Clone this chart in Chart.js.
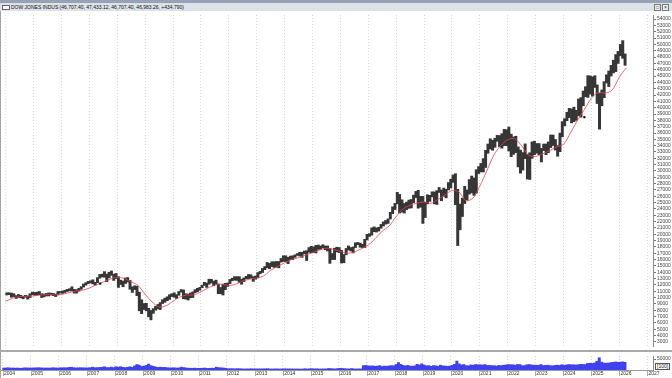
<!DOCTYPE html>
<html>
<head>
<meta charset="utf-8">
<script src="https://cdn.jsdelivr.net/npm/chart.js@4.4.1/dist/chart.umd.min.js"></script>
<style>
  html, body { margin: 0; padding: 0; background: #fff; }
  body { width: 672px; height: 378px; position: relative; overflow: hidden;
         font-family: "Liberation Sans", Arial, sans-serif; }
  #topbar { position: absolute; left: 0; top: 0; width: 672px; height: 3px; background: #97a3b4; }
  #legendbar { position: absolute; left: 0; top: 3px; width: 672px; height: 8px; background: #dde2e9; }
  #legend { position: absolute; left: 2px; top: 4px; font-size: 5px; line-height: 6px; color: #111; white-space: nowrap; }
  #legend i { display: inline-block; width: 6px; height: 3px; border: 1px solid #666; background: #fff; margin-right: 1px; vertical-align: -1px; }
  .btn { position: absolute; top: 4px; width: 5px; height: 5px; border: 1px solid #777; background: #eef0f3; font-size: 5px; line-height: 5px; text-align: center; color: #222; }
  #leftedge { position: absolute; left: 0; top: 11px; width: 1px; height: 367px; background: #a4a4a4; }
  #price { position: absolute; left: 0; top: 11px; }
  #sep { position: absolute; left: 0; top: 350px; width: 672px; height: 2px; background: #a9a9a9; }
  #volume { position: absolute; left: 0; top: 352px; }
  #volscale { position: absolute; left: 655px; top: 363px; font-size: 5px; line-height: 5px; border: 1px solid #555; padding: 0 1px; color: #222; background: #fff; }
</style>
</head>
<body>
<div id="topbar"></div>
<div id="legendbar"></div>
<div id="legend"><i></i><span id="legendText"></span></div>
<div class="btn" style="left:654px">&#9633;</div>
<div class="btn" style="left:662px">&#215;</div>
<canvas id="price" width="672" height="339"></canvas>
<div id="sep"></div>
<canvas id="volume" width="672" height="26"></canvas>
<div id="volscale">[100]</div>
<div id="leftedge"></div>
<script>
const LEGEND_TEXT = 'DOW JONES INDUS (46,707.40, 47,433.12, 46,707.40, 46,983.26, +434.790)';

// monthly bars, Jan 2004 .. Mar 2026
const START_YEAR = 2004;
const HIGH = [
  10750, 10750, 10700, 10600, 10300, 10480, 10350, 10200, 10350, 10250, 10600, 10860,
  10800, 10850, 10950, 10600, 10550, 10650, 10720, 10700, 10650, 10550, 10950, 10950,
  11050, 11150, 11300, 11400, 11700, 11300, 11250, 11450, 11720, 12150, 12350, 12550,
  12650, 12800, 12400, 13150, 13650, 13700, 14100, 13700, 14000, 14200, 13700, 13800,
  13300, 12750, 12600, 13100, 13150, 12700, 11700, 11850, 11800, 10850, 9650, 9050,
  9100, 8300, 7950, 8250, 8600, 8900, 9200, 9650, 9900, 10120, 10450, 10600,
  10750, 10450, 10950, 11260, 11200, 10600, 10550, 10720, 10900, 11250, 11450, 11600,
  11950, 12400, 12300, 12900, 12880, 12600, 12750, 12150, 11600, 12100, 12250, 12300,
  12850, 13050, 13300, 13300, 13300, 12900, 13100, 13350, 13650, 13600, 13300, 13400,
  13950, 14150, 14600, 14900, 15550, 15400, 15650, 15650, 15700, 15700, 16170, 16600,
  16600, 16350, 16550, 16600, 16750, 16950, 17150, 17150, 17350, 17400, 17900, 18100,
  18000, 18250, 18300, 18150, 18350, 18150, 18150, 17750, 16950, 17800, 17950, 17900,
  17450, 16800, 17750, 18150, 17900, 18000, 18650, 18700, 18600, 18400, 19200, 19990,
  20100, 21000, 21170, 21000, 21100, 21550, 21950, 22180, 22420, 23480, 24330, 24880,
  26620, 26300, 25450, 24860, 25080, 25400, 25500, 26170, 26770, 26950, 25990, 25980,
  25050, 26240, 26150, 26700, 26700, 26900, 27400, 27000, 27300, 27100, 28170, 28700,
  29370, 29570, 27100, 24760, 25700, 27580, 27000, 28650, 29200, 28900, 30200, 30700,
  31190, 31960, 33260, 34260, 35090, 34850, 35170, 35630, 35600, 35900, 36570, 36520,
  36950, 35820, 35370, 35490, 33800, 33300, 32900, 34280, 32600, 32880, 34600, 34710,
  34340, 34340, 33570, 34260, 34260, 34590, 35680, 35680, 34980, 34000, 35980, 37800,
  38270, 39280, 39890, 39810, 40080, 39590, 41380, 41590, 42630, 43320, 45070, 45010,
  44880, 45050, 43600, 42250, 42800, 44120, 45200, 45800, 46700, 47500, 48400, 48900,
  50000, 50600, 48500
];
const LOW = [
  10400, 10450, 10050, 10150, 9850, 10000, 9950, 9800, 10050, 9750, 10000, 10450,
  10350, 10400, 10450, 10000, 10100, 10250, 10250, 10400, 10300, 10150, 10400, 10700,
  10650, 10800, 10950, 11050, 11050, 10700, 10700, 11000, 11300, 11650, 11950, 12200,
  12300, 12150, 11950, 12350, 13050, 13250, 13200, 12500, 13100, 13500, 12700, 13000,
  11600, 12050, 11700, 12200, 12450, 11300, 10800, 11250, 10300, 7900, 7450, 8100,
  7900, 6950, 6470, 7500, 8000, 8200, 8100, 9050, 9250, 9500, 9700, 10150,
  10050, 9850, 10350, 10850, 9800, 9750, 9600, 9950, 10000, 10750, 10900, 11150,
  11550, 11900, 11600, 12100, 12300, 11850, 12100, 10600, 10600, 10400, 11250, 11750,
  12200, 12650, 12750, 12700, 12400, 12100, 12500, 12950, 13000, 13050, 12550, 12900,
  13100, 13750, 13950, 14400, 14700, 14550, 14900, 14750, 14800, 14700, 15600, 15700,
  15650, 15350, 16000, 16000, 16350, 16650, 16550, 16350, 16900, 15850, 17150, 17050,
  17100, 17050, 17600, 17650, 17850, 17550, 17350, 15400, 16000, 16000, 17200, 17100,
  15450, 15500, 16750, 17500, 17350, 17050, 17900, 18350, 17950, 17900, 17900, 19100,
  19650, 19850, 20400, 20350, 20500, 20950, 21300, 21600, 21700, 22400, 23250, 23900,
  24800, 23350, 23500, 23350, 23900, 24100, 24150, 25000, 25800, 24120, 24270, 21710,
  22640, 24800, 25200, 25900, 24800, 24700, 26600, 25300, 26000, 25750, 27000, 27300,
  28200, 24680, 18210, 20700, 22800, 24850, 25400, 26350, 26540, 26140, 26500, 29600,
  29850, 29850, 30550, 32800, 33470, 33270, 33740, 34680, 33850, 33600, 34000, 34000,
  33150, 32270, 32630, 32900, 30640, 29650, 30140, 31950, 28720, 28660, 32000, 32570,
  32810, 32580, 31430, 33230, 32580, 32900, 33700, 34020, 33300, 32330, 33050, 35400,
  37120, 37950, 38430, 37610, 37810, 38000, 38720, 38500, 40300, 41740, 41620, 42150,
  41840, 43200, 40660, 36610, 40300, 41580, 43900, 43340, 45000, 45500, 45700, 47000,
  48200, 47800, 46700
];
const VOLUME = [
  9000, 9500, 10000, 9000, 9000, 8500, 9000, 8000, 8500, 10000, 9500, 9000,
  9500, 9500, 10000, 10500, 9500, 9000, 9000, 9000, 9000, 10500, 9500, 9000,
  10000, 10000, 10500, 10000, 12000, 12500, 10500, 9500, 10000, 10500, 10000, 9500,
  10000, 10500, 13000, 10500, 11000, 11500, 12500, 15000, 11500, 11000, 13500, 11000,
  15000, 13000, 15000, 12000, 11000, 12500, 15000, 12000, 19000, 25000, 22000, 16000,
  18000, 21000, 27000, 20000, 17000, 14000, 12000, 13000, 12000, 12000, 10500, 9500,
  10000, 10000, 9000, 9500, 13000, 11000, 9500, 8500, 8000, 8000, 8500, 7500,
  8000, 8000, 9000, 7500, 7500, 8500, 8000, 13000, 11000, 10000, 9000, 8000,
  6000, 6000, 6000, 5500, 6000, 6000, 5000, 4500, 5000, 5000, 5500, 5000,
  5000, 5000, 5000, 5500, 5500, 6000, 4500, 4500, 5000, 5000, 4500, 4500,
  5500, 5000, 5000, 5000, 4500, 4500, 4500, 4000, 4500, 6000, 4500, 5500,
  6000, 5000, 5500, 4500, 4500, 5000, 4500, 7000, 6500, 5500, 5000, 6500,
  7500, 7000, 6000, 5000, 5000, 6500, 5000, 4500, 5000, 5000, 20000, 21000,
  19000, 18000, 19000, 17000, 18000, 20000, 16000, 18000, 17000, 19000, 20000, 19000,
  25000, 34000, 26000, 21000, 19000, 21000, 18000, 17000, 19000, 26000, 23000, 28000,
  23000, 19000, 20000, 17000, 20000, 19000, 17000, 22000, 19000, 18000, 17000, 18000,
  21000, 26000, 41000, 28000, 23000, 25000, 20000, 19000, 23000, 22000, 25000, 24000,
  24000, 23000, 25000, 21000, 21000, 20000, 20000, 18000, 21000, 20000, 22000, 23000,
  25000, 24000, 24000, 22000, 25000, 25000, 20000, 20000, 24000, 25000, 23000, 22000,
  22000, 21000, 25000, 20000, 21000, 22000, 20000, 19000, 21000, 22000, 21000, 24000,
  22000, 23000, 25000, 24000, 24000, 23000, 24000, 26000, 25000, 25000, 30000, 31000,
  30000, 32000, 40000, 56000, 36000, 32000, 31000, 32000, 34000, 35000, 37000, 35000,
  36000, 37000, 35000
];

// red moving average, one point per quarter from 2004.0
const MA_STEP = 0.25;
const MA = [
  9400, 9900, 10150, 10200,
  10250, 10400, 10450, 10450,
  10500, 10750, 11000, 11150,
  11500, 12000, 12450, 12900,
  13200, 13000, 12500, 11900,
  10500, 9300, 8500, 8700,
  9400, 10100, 10400, 10400,
  10900, 11500, 12000, 12100,
  11900, 12100, 12600, 12900,
  13100, 13400, 14300, 14900,
  15500, 16000, 16300, 16700,
  17100, 17500, 17800, 17600,
  17300, 17000, 17200, 17700,
  18300, 19300, 20500, 21300,
  22800, 24000, 24600, 24900,
  25100, 24900, 25500, 26200,
  26900, 26700, 25300, 25700,
  27600, 30000, 32500, 34000,
  34950, 35100, 34000, 32500,
  32300, 32700, 33200, 33800,
  34200, 36000, 38000, 39700,
  41500, 42400, 42300, 42800,
  44800, 46300
];

// small black event markers
const MARK_X = [2007.39, 2024.75];
const MARK_Y = [12200, 38500];

const YEARS = [];
for (let y = 2004; y <= 2027; y++) YEARS.push(y);
const PRICE_TICKS = [];
for (let v = 3000; v <= 54000; v += 1000) PRICE_TICKS.push(v);

const X_MIN = 2003.94;
const X_MAX = 2027.21;

document.getElementById('legendText').textContent = LEGEND_TEXT;

const monthX = i => START_YEAR + (i + 0.5) / 12;
const font = { family: '"Liberation Sans", Arial, sans-serif', size: 5 };
const gridX = { color: '#d4d4d4', lineWidth: 1, drawTicks: false, offset: false };
const noPad = s => { s.paddingLeft = 0; s.paddingRight = 0; };

new Chart(document.getElementById('price'), {
  type: 'bar',
  data: {
    datasets: [
      {
        type: 'scatter',
        data: MARK_X.map((x, i) => ({ x, y: MARK_Y[i] })),
        pointStyle: 'rect',
        pointRadius: 1.5,
        backgroundColor: '#000',
        borderWidth: 0,
        order: 0,
      },
      {
        type: 'line',
        data: MA.map((v, i) => ({ x: START_YEAR + i * MA_STEP, y: v })),
        borderColor: '#e5484d',
        borderWidth: 0.8,
        pointRadius: 0,
        tension: 0.3,
        order: 1,
      },
      {
        type: 'bar',
        data: HIGH.map((h, i) => ({ x: monthX(i), y: [LOW[i], h] })),
        backgroundColor: '#363636',
        barThickness: 2.3,
        order: 2,
      },
    ],
  },
  options: {
    responsive: false,
    animation: false,
    devicePixelRatio: 1,
    layout: { padding: { left: 1, right: 0, top: 0, bottom: 0 } },
    plugins: { legend: { display: false }, tooltip: { enabled: false } },
    scales: {
      x: {
        type: 'linear',
        offset: false,
        min: X_MIN,
        max: X_MAX,
        afterBuildTicks: s => { s.ticks = YEARS.map(v => ({ value: v })); },
        ticks: { display: false },
        grid: gridX,
        border: { display: false, dash: [1, 2] },
        afterFit: s => { s.height = 0; noPad(s); },
      },
      y: {
        position: 'right',
        min: 2340,
        max: 54650,
        afterBuildTicks: s => { s.ticks = PRICE_TICKS.map(v => ({ value: v })); },
        ticks: { font, color: '#444', padding: 1, autoSkip: false, callback: v => String(v) },
        grid: { drawOnChartArea: false, tickLength: 3, color: '#777' },
        border: { color: '#8a8a8a' },
        afterFit: s => { s.width = 19; },
      },
    },
  },
});

new Chart(document.getElementById('volume'), {
  type: 'bar',
  data: {
    datasets: [{
      data: VOLUME.map((v, i) => ({ x: monthX(i), y: v })),
      backgroundColor: '#4040ee',
      barPercentage: 1,
      categoryPercentage: 1,
    }],
  },
  options: {
    responsive: false,
    animation: false,
    devicePixelRatio: 1,
    layout: { padding: { left: 1, right: 0, top: 1, bottom: 0 } },
    plugins: { legend: { display: false }, tooltip: { enabled: false } },
    scales: {
      x: {
        type: 'linear',
        offset: false,
        min: X_MIN,
        max: X_MAX,
        afterBuildTicks: s => { s.ticks = YEARS.map(v => ({ value: v })); },
        ticks: { font, color: '#333', padding: 1, align: 'start', maxRotation: 0, autoSkip: false, callback: v => '|' + v },
        grid: gridX,
        border: { display: true, color: '#9a9a9a', dash: [1, 2] },
        afterFit: s => { s.height = 8; noPad(s); },
      },
      y: {
        position: 'right',
        min: 0,
        max: 64000,
        afterBuildTicks: s => { s.ticks = [{ value: 50000 }]; },
        ticks: { font, color: '#444', padding: 1, callback: v => String(v) },
        grid: { drawOnChartArea: false, tickLength: 3, color: '#777' },
        border: { color: '#8a8a8a' },
        afterFit: s => { s.width = 19; },
      },
    },
  },
});
</script>
</body>
</html>
